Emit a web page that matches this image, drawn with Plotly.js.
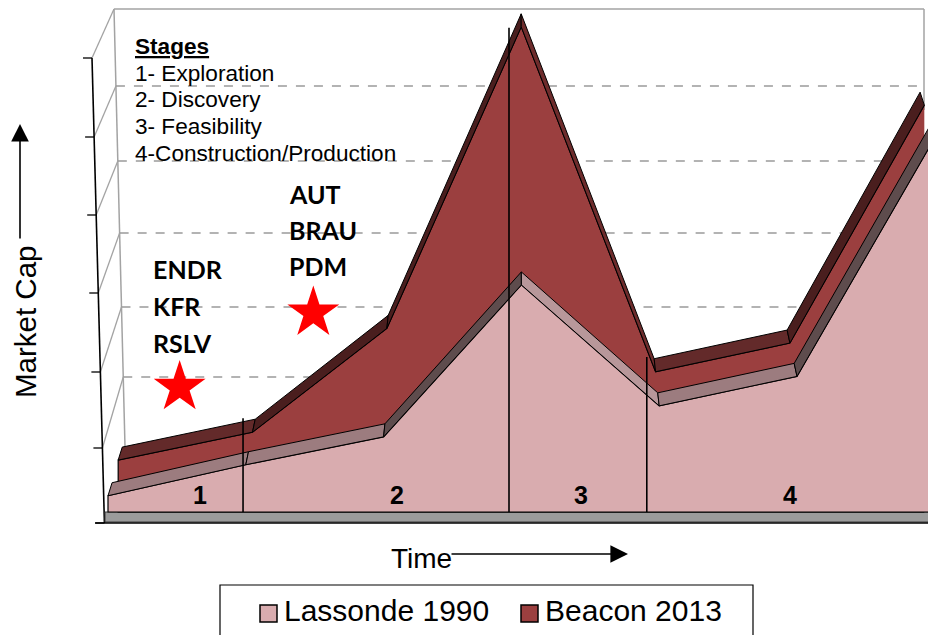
<!DOCTYPE html>
<html><head><meta charset="utf-8">
<script src="https://cdn.plot.ly/plotly-3.0.1.min.js"></script>
<style>html,body{margin:0;padding:0;background:#fff}</style>
</head><body><div id="chart" style="width:928px;height:635px"></div>
<script>
// ---- data ----
const periods = [0, 1, 2, 3, 4, 5, 6];
const lassonde1990 = [2.1, 6.1, 9.7, 29.3, 13.7, 17.5, 48.3];
const beacon2013 = [6.7, 10.3, 23.7, 62.6, 18.1, 21.8, 52.5];
const seriesNames = ['Lassonde 1990', 'Beacon 2013'];
const stageTitle = 'Stages';
const stageNames = ['1- Exploration', '2- Discovery', '3- Feasibility', '4-Construction/Production'];
const stageNumbers = ['1', '2', '3', '4'];
const stageNumberX = [0.67, 2.10, 3.43, 4.95];
const stageEdges = [0.98, 2.91, 3.91];
const stageEdgeTops = [12.1, 62.5, 20.0];
const groupA = ['ENDR', 'KFR', 'RSLV'];
const groupB = ['AUT', 'BRAU', 'PDM'];
const starX = [0.52, 1.49];
const starY = [16.1, 25.7];

// ---- geometry / style ----
const W = 928, H = 635;
const X0 = 108, DXP = 137.8, Y0 = 512, DYP = 7.75;
const xr = [(0 - X0) / DXP, (W - X0) / DXP];
const yr = [(Y0 - H) / DYP, Y0 / DYP];
const VX = (515 - X0) / DXP;
const DEPTH = 13 / DYP;
const persp = (i, f) => VX + (i - VX) * f;
const PX = p => p / W, PY = p => 1 - p / H;
const ARIAL = 'Liberation Sans, Arial, sans-serif';
const CAL = 'Lato, Carlito, sans-serif';

const traces = [];
function addSeries(vals, name, fFront, fBack, face, cols) {
  const fx = periods.map(i => persp(i, fFront));
  const bx = periods.map(i => persp(i, fBack));
  const n = vals.length;
  traces.push({
    type: 'scatter', mode: 'lines', name: name, fill: 'toself', fillcolor: face,
    x: [fx[n - 1], fx[0]].concat(fx), y: [0, 0].concat(vals),
    line: {color: '#000', width: 1.2}, hoverinfo: 'skip', showlegend: false
  });
  for (let k = 0; k < n - 1; k++) {
    const s = vals[k + 1] - vals[k];
    const c = s < 0 ? cols.desc : (s < 8 ? cols.gentle : cols.steep);
    traces.push({
      type: 'scatter', mode: 'lines', fill: 'toself', fillcolor: c,
      x: [fx[k], fx[k + 1], bx[k + 1], bx[k], fx[k]],
      y: [vals[k], vals[k + 1], vals[k + 1] + DEPTH, vals[k] + DEPTH, vals[k]],
      line: {color: '#000', width: 1}, hoverinfo: 'skip', showlegend: false
    });
  }
}
addSeries(beacon2013, seriesNames[1], 0.975, 0.965, '#9b3f3f',
  {gentle: '#632a2a', steep: '#4a1e1e', desc: '#6e2c2c'});
addSeries(lassonde1990, seriesNames[0], 1.0, 0.99, '#d9acaf',
  {gentle: '#9c7c7f', steep: '#5e4c4d', desc: '#b8979a'});

// stars
traces.push({
  type: 'scatter', mode: 'markers', x: starX, y: starY,
  marker: {symbol: 'star', size: 39, color: '#ff0000', line: {width: 0}},
  hoverinfo: 'skip', showlegend: false
});

// ---- frame shapes (pixel based) ----
const shapes = [];
const frontX = y => 92 + (y - 58) * 0.0267;
const backX = y => 114 + (y - 9) * (11 / 438);
const frontTicks = [58, 137, 215, 293, 372, 448, 523];
const backLevels = [9, 86, 161, 233, 307, 377];
function pline(x0, y0, x1, y1, color, width, dash, layer) {
  shapes.push({type: 'line', xref: 'paper', yref: 'paper', x0: PX(x0), y0: PY(y0), x1: PX(x1), y1: PY(y1),
    line: {color: color, width: width, dash: dash || 'solid'}, layer: layer || 'below'});
}
const GR = '#a3a3a3';
pline(114, 9, 924, 9, GR, 1.5);
pline(924, 9, 924, 110, GR, 1.5);
pline(114, 9, backX(450), 450, GR, 1.5);
backLevels.slice(1).forEach(l => pline(backX(l), l, 924, l, '#9a9a9a', 1.3, 'dash'));
backLevels.forEach((l, k) => pline(frontX(frontTicks[k]), frontTicks[k], backX(l), l, GR, 1.3));
pline(frontX(58), 58, frontX(523), 523, '#000', 1.6);
frontTicks.forEach(t => pline(frontX(t) - 9, t, frontX(t), t, '#000', 1.3));
// floor slab
shapes.push({type: 'rect', xref: 'paper', yref: 'paper', x0: PX(105), x1: PX(930), y0: PY(512), y1: PY(522),
  fillcolor: '#9b9b9b', line: {color: '#3a3a3a', width: 1}, layer: 'below'});
pline(95, 523, 928, 523, '#000', 1.5);
// stage dividers (data coords)
stageEdges.forEach((e, k) => shapes.push({type: 'line', xref: 'x', yref: 'y', x0: e, x1: e, y0: 0, y1: stageEdgeTops[k],
  line: {color: '#000', width: 1.6}, layer: 'above'}));
// legend box + swatches
shapes.push({type: 'rect', xref: 'paper', yref: 'paper', x0: PX(220), x1: PX(753), y0: PY(585), y1: PY(660),
  fillcolor: 'rgba(0,0,0,0)', line: {color: '#000', width: 1.2}, layer: 'above'});
const legendSw = [[260, '#d9acaf'], [521, '#9b3f3f']];
legendSw.forEach(s => shapes.push({type: 'rect', xref: 'paper', yref: 'paper', x0: PX(s[0]), x1: PX(s[0] + 17),
  y0: PY(605), y1: PY(622), fillcolor: s[1], line: {color: '#000', width: 1.5}, layer: 'above'}));

// ---- annotations ----
const ann = [];
function ptext(text, x, y, size, font, anchor, extra) {
  ann.push(Object.assign({text: text, xref: 'paper', yref: 'paper', x: PX(x), y: PY(y), showarrow: false,
    xanchor: anchor || 'left', yanchor: 'middle', font: {family: font, size: size, color: '#000'}}, extra || {}));
}
ptext('<b><u>' + stageTitle + '</u></b>', 133, 46, 22.6, ARIAL);
stageNames.forEach((s, k) => ptext(s, 133, 73 + k * 26.7, 22.6, ARIAL));
groupA.forEach((s, k) => ptext('<b>' + s + '</b>', 151, 269 + k * 37, 25, CAL));
groupB.forEach((s, k) => ptext('<b>' + s + '</b>', 287, 194 + k * 36, 25, CAL));
stageNumbers.forEach((s, k) => ann.push({text: '<b>' + s + '</b>', xref: 'x', yref: 'y', x: stageNumberX[k],
  y: (Y0 - 495) / DYP, showarrow: false, xanchor: 'center', yanchor: 'middle',
  font: {family: ARIAL, size: 25, color: '#000'}}));
ptext('Market Cap', 25, 322, 29.5, ARIAL, 'center', {textangle: -90});
ptext('Time', 421, 558, 28, ARIAL, 'center');
ptext(seriesNames[0], 282, 610, 30, ARIAL);
ptext(seriesNames[1], 543, 610, 30, ARIAL);
// arrows
ann.push({text: '', xref: 'paper', yref: 'paper', x: PX(20), y: PY(124), ax: 0, ay: 116, showarrow: true,
  arrowhead: 2, arrowsize: 2.2, arrowwidth: 1.6, arrowcolor: '#000', standoff: 0});
ann.push({text: '', xref: 'paper', yref: 'paper', x: PX(628), y: PY(554), ax: -178, ay: 0, showarrow: true,
  arrowhead: 2, arrowsize: 2.2, arrowwidth: 1.6, arrowcolor: '#000', standoff: 0});

const layout = {
  width: W, height: H, margin: {l: 0, r: 0, t: 0, b: 0},
  paper_bgcolor: '#fff', plot_bgcolor: '#fff', showlegend: false,
  xaxis: {range: xr, visible: false, fixedrange: true},
  yaxis: {range: yr, visible: false, fixedrange: true},
  shapes: shapes, annotations: ann
};
Plotly.newPlot('chart', traces, layout, {displayModeBar: false, staticPlot: true});
</script></body></html>
